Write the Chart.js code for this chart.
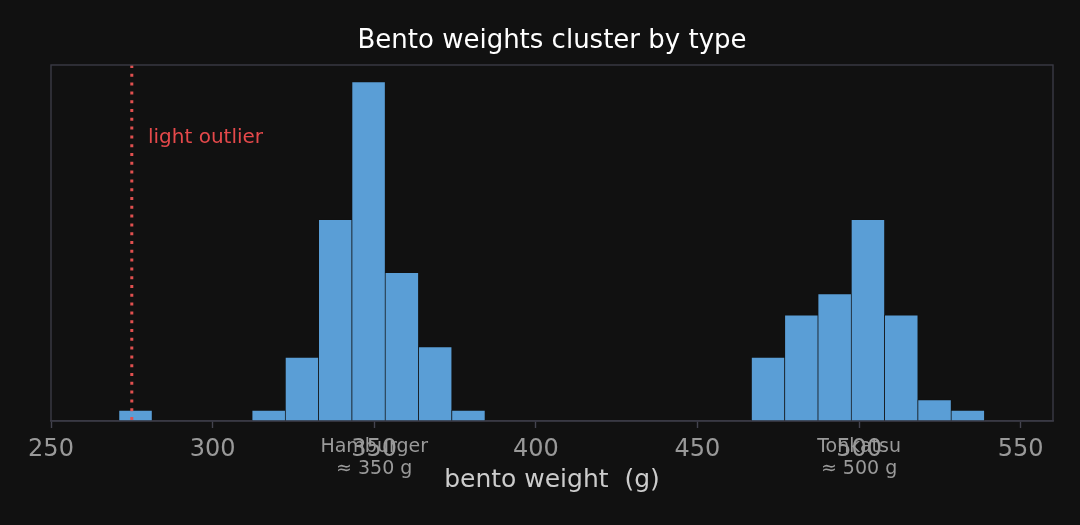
<!DOCTYPE html>
<html>
<head>
<meta charset="utf-8">
<script src="https://cdn.jsdelivr.net/npm/chart.js@4"></script>
<style>
  html, body { margin: 0; padding: 0; background: #111111; }
  #wrap { width: 1080px; height: 525px; }
</style>
</head>
<body>
<div id="wrap"><canvas id="bentoChart"></canvas></div>
<script>
// bins of the histogram (left edge of first bin, width of each bin)
const binStart = 271.0;
const binWidth = 10.3;
// counts per bin
const binCounts = [1, 0, 0, 0, 1, 6, 19, 32, 14, 7, 1, 0, 0, 0, 0, 0, 0, 0, 0, 6, 10, 12, 19, 10, 2, 1];
const xTicks = [250, 300, 350, 400, 450, 500, 550];
const outlierWeight = 275;
const clusterLabels = ['Hamburger', 'Tonkatsu'];
const clusterCenters = [350, 500];

const histData = binCounts.map((c, i) => ({ x: binStart + binWidth * (i + 0.5), y: c }));

// frame around plot + outlier line + labels under the axis
const extras = {
    id: 'extras',
    beforeDraw(chart) {
        const c = chart.ctx;
        c.save();
        c.fillStyle = '#111111';
        c.fillRect(0, 0, chart.width, chart.height);
        c.restore();
    },
    afterDatasetsDraw(chart) {
        const c = chart.ctx;
        const a = chart.chartArea;
        const xs = chart.scales.x;
        const ys = chart.scales.y;
        c.save();
        // dotted red line
        const px = xs.getPixelForValue(outlierWeight);
        c.strokeStyle = '#e0504f';
        c.lineWidth = 3;
        c.setLineDash([3, 5.8]);
        c.beginPath();
        c.moveTo(px, a.top);
        c.lineTo(px, a.bottom);
        c.stroke();
        c.setLineDash([]);
        c.fillStyle = '#e5494b';
        c.font = '20px "DejaVu Sans"';
        c.textBaseline = 'middle';
        c.textAlign = 'left';
        c.fillText('light outlier', xs.getPixelForValue(280), ys.getPixelForValue(26.7));
        // frame
        c.strokeStyle = '#3a3a45';
        c.lineWidth = 1.4;
        c.strokeRect(a.left, a.top, a.right - a.left, a.bottom - a.top);
        c.restore();
    },
    afterDraw(chart) {
        const c = chart.ctx;
        const a = chart.chartArea;
        const xs = chart.scales.x;
        c.save();
        c.fillStyle = '#9a9a9a';
        c.font = '19px "DejaVu Sans"';
        c.textAlign = 'center';
        c.textBaseline = 'middle';
        clusterLabels.forEach((lab, i) => {
            const px = xs.getPixelForValue(clusterCenters[i]);
            c.fillText(lab, px, a.bottom + 26);
            c.fillText('≈ ' + clusterCenters[i] + ' g', px, a.bottom + 48);
        });
        c.restore();
    }
};

const ctx = document.getElementById('bentoChart').getContext('2d');
new Chart(ctx, {
    type: 'bar',
    data: {
        datasets: [{
            data: histData,
            backgroundColor: '#5a9ed6',
            borderColor: '#111111',
            borderWidth: 0.7,
            borderSkipped: false,
            barPercentage: 1.0,
            categoryPercentage: 1.0
        }]
    },
    options: {
        responsive: true,
        maintainAspectRatio: false,
        animation: false,
        layout: { padding: { left: 51, right: 27, top: 0, bottom: 32 } },
        plugins: {
            legend: { display: false },
            tooltip: { enabled: false },
            title: {
                display: true,
                text: 'Bento weights cluster by type',
                color: '#ffffff',
                fullSize: false,
                font: { family: 'DejaVu Sans', size: 26, weight: 'normal' },
                padding: { top: 25.4, bottom: 8.4 }
            }
        },
        scales: {
            x: {
                type: 'linear',
                min: 250,
                max: 560,
                offset: false,
                afterBuildTicks: (scale) => {
                    scale.ticks = xTicks.map(v => ({ value: v }));
                },
                ticks: {
                    color: '#999999',
                    font: { family: 'DejaVu Sans', size: 24, lineHeight: 1.0 },
                    padding: 10,
                    maxRotation: 0,
                    autoSkip: false
                },
                grid: {
                    display: true,
                    offset: false,
                    drawOnChartArea: false,
                    drawTicks: true,
                    tickLength: 7,
                    tickColor: '#44444f',
                    tickWidth: 1.4
                },
                border: { display: true, color: '#3a3a45', width: 1.4 },
                title: {
                    display: true,
                    text: 'bento weight  (g)',
                    color: '#cccccc',
                    font: { family: 'DejaVu Sans', size: 25, lineHeight: 1.0 },
                    padding: { top: -4, bottom: 0 }
                }
            },
            y: {
                display: false,
                min: 0,
                max: 33.6
            }
        }
    },
    plugins: [extras]
});
</script>
</body>
</html>
